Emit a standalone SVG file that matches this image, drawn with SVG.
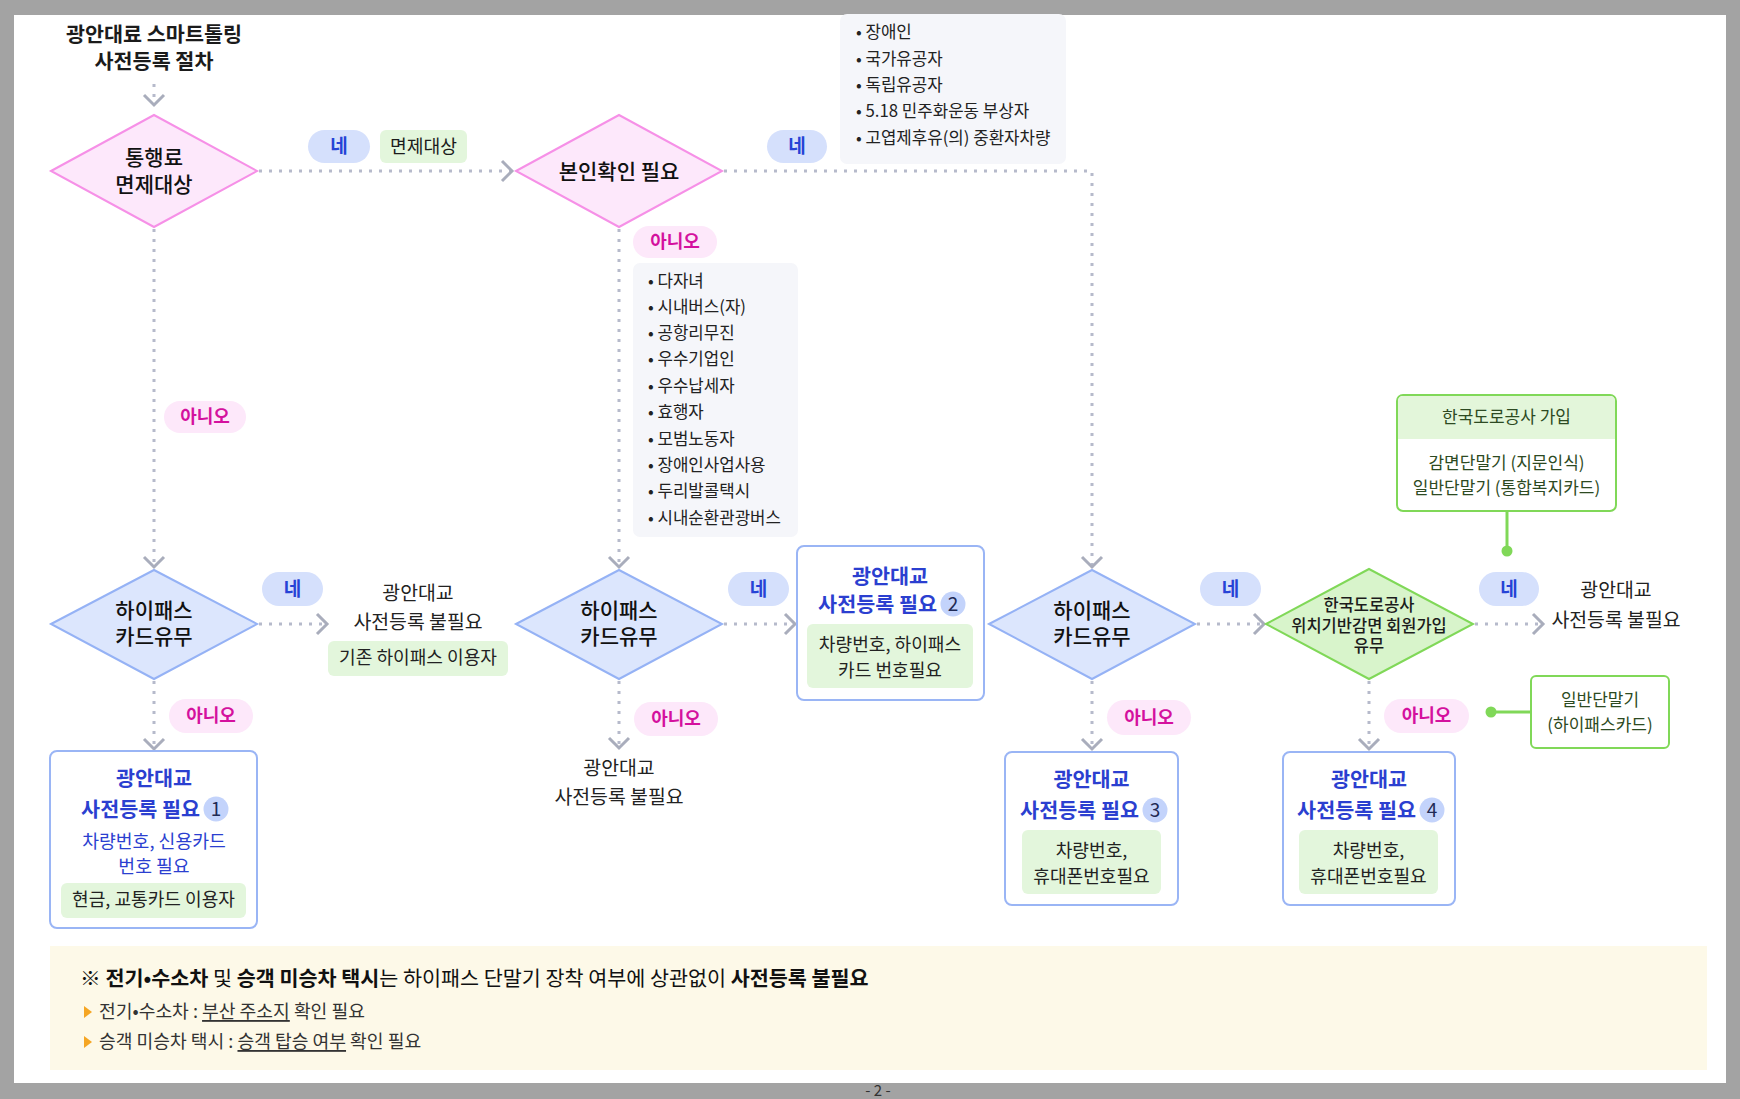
<svg xmlns="http://www.w3.org/2000/svg" width="1740" height="1099" viewBox="0 0 1740 1099">
<style>
text{font-family:"Noto Sans CJK KR","Noto Sans",sans-serif;dominant-baseline:central;fill:#1b1b1b}
.c{text-anchor:middle}
.dot{fill:none;stroke:#b6bacb;stroke-width:3;stroke-dasharray:3 7}
.pk{fill:#fde8fb;stroke:#f690e7;stroke-width:2}
.bl{fill:#dce6fd;stroke:#95b2f5;stroke-width:2}
.gr{fill:#d8f4cb;stroke:#80d858;stroke-width:2}
.ne{fill:#d5e0fc}
.ne-t{fill:#2643d6;font-weight:700;font-size:19px}
.an{fill:#fde8fa}
.an-t{fill:#d4119e;font-weight:700;font-size:18px}
.tag{fill:#e3f6dc}
.box{fill:#fff;stroke:#9ab5f5;stroke-width:2}
.gbox{fill:#fff;stroke:#80d858;stroke-width:2}
.lst{fill:#f5f6fa}
.li{font-size:16.8px;fill:#222}
.dm{font-size:21px;font-weight:500;fill:#111}
.bt{font-size:20.7px;font-weight:700;fill:#2b3fd0}
.bs{font-size:18.3px;fill:#2b3fd0}
.num{fill:#c3d3fb}
.num-t{font-size:19px;fill:#1f2a55}
.tt{font-size:18.1px;fill:#222}
.gt{font-size:17px;fill:#2d4a22}
.np{font-size:19.4px;fill:#222}
.sol{fill:none;stroke:#80d858;stroke-width:3}
</style>
<defs>
<marker id="ar" markerUnits="userSpaceOnUse" markerWidth="16" markerHeight="26" refX="13" refY="13" orient="auto">
<path d="M3,3 L13,13 L3,23" fill="none" stroke="#a9adbc" stroke-width="3"/>
</marker>
</defs>
<rect x="0" y="0" width="1740" height="1099" fill="#a3a3a3"/>
<rect x="14" y="15" width="1712" height="1068" fill="#ffffff"/>

<g id="connectors">
<path class="dot" d="M154,84 V105" marker-end="url(#ar)"/>
<path class="dot" d="M259,171 H512" marker-end="url(#ar)"/>
<path class="dot" d="M154,229 V567" marker-end="url(#ar)"/>
<path class="dot" d="M619,229 V567" marker-end="url(#ar)"/>
<path class="dot" d="M724,171 H1092 V567" marker-end="url(#ar)"/>
<path class="dot" d="M259,624 H327" marker-end="url(#ar)"/>
<path class="dot" d="M154,681 V749" marker-end="url(#ar)"/>
<path class="dot" d="M724,624 H795" marker-end="url(#ar)"/>
<path class="dot" d="M619,681 V748" marker-end="url(#ar)"/>
<path class="dot" d="M1197,624 H1264" marker-end="url(#ar)"/>
<path class="dot" d="M1092,681 V749" marker-end="url(#ar)"/>
<path class="dot" d="M1475,624 H1543" marker-end="url(#ar)"/>
<path class="dot" d="M1369,681 V749" marker-end="url(#ar)"/>
<path class="sol" d="M1507,511 V551"/>
<circle cx="1507" cy="551" r="5.5" fill="#80d858"/>
<path class="sol" d="M1491,712 H1531"/>
<circle cx="1491" cy="712" r="5.5" fill="#80d858"/>
</g>

<g id="title">
<text class="c" font-size="20.7" font-weight="700"><tspan x="154" y="33">광안대료 스마트톨링</tspan><tspan x="154" y="60">사전등록 절차</tspan></text>
</g>

<g id="d1">
<polygon class="pk" points="51,171 154,115 257,171 154,227"/>
<text class="c dm"><tspan x="154" y="156">통행료</tspan><tspan x="154" y="183">면제대상</tspan></text>
</g>
<g id="l-ne1"><rect class="ne" x="308" y="130" width="62" height="33" rx="16.5"/><text class="c ne-t" x="339" y="144.5">네</text></g>
<g id="tag-exempt"><rect class="tag" x="380" y="130" width="87" height="33" rx="6"/><text class="c" x="423.5" y="144.5" font-size="18.2">면제대상</text></g>

<g id="d2">
<polygon class="pk" points="516,171 619,115 722,171 619,227"/>
<text class="c dm" x="619" y="170">본인확인 필요</text>
</g>
<g id="l-ne2"><rect class="ne" x="767" y="130" width="60" height="33" rx="16.5"/><text class="c ne-t" x="797" y="144.5">네</text></g>
<g id="list1">
<rect class="lst" x="840" y="14" width="226" height="150" rx="7"/>
<text class="li"><tspan x="856" y="31">• 장애인</tspan><tspan x="856" y="58">• 국가유공자</tspan><tspan x="856" y="84">• 독립유공자</tspan><tspan x="856" y="110">• 5.18 민주화운동 부상자</tspan><tspan x="856" y="137">• 고엽제후유(의) 중환자차량</tspan></text>
</g>

<g id="l-an1"><rect class="an" x="164" y="401" width="82" height="32" rx="16"/><text class="c an-t" x="205" y="415">아니오</text></g>
<g id="l-an2"><rect class="an" x="633" y="226" width="84" height="32" rx="16"/><text class="c an-t" x="675" y="240">아니오</text></g>
<g id="list2">
<rect class="lst" x="633" y="263" width="165" height="274" rx="7"/>
<text class="li"><tspan x="648" y="280">• 다자녀</tspan><tspan x="648" y="306">• 시내버스(자)</tspan><tspan x="648" y="332">• 공항리무진</tspan><tspan x="648" y="358">• 우수기업인</tspan><tspan x="648" y="385">• 우수납세자</tspan><tspan x="648" y="411">• 효행자</tspan><tspan x="648" y="438">• 모범노동자</tspan><tspan x="648" y="464">• 장애인사업사용</tspan><tspan x="648" y="490">• 두리발콜택시</tspan><tspan x="648" y="517">• 시내순환관광버스</tspan></text>
</g>

<g id="d3">
<polygon class="bl" points="51,624 154,570 257,624 154,679"/>
<text class="c dm"><tspan x="154" y="609">하이패스</tspan><tspan x="154" y="635">카드유무</tspan></text>
</g>
<g id="l-ne3"><rect class="ne" x="262" y="572" width="61" height="34" rx="17"/><text class="c ne-t" x="292.5" y="587">네</text></g>
<g id="r-nopre1">
<text class="c np"><tspan x="418" y="591">광안대교</tspan><tspan x="418" y="620">사전등록 불필요</tspan></text>
<rect class="tag" x="328" y="641" width="180" height="35" rx="6"/>
<text class="c tt" x="418" y="656">기존 하이패스 이용자</text>
</g>
<g id="l-an3"><rect class="an" x="169" y="699" width="84" height="34" rx="17"/><text class="c an-t" x="211" y="714">아니오</text></g>
<g id="box1">
<rect class="box" x="50" y="751" width="207" height="177" rx="7"/>
<text class="c bt" x="154" y="777">광안대교</text>
<text class="bt" x="200" y="808" text-anchor="end">사전등록 필요</text>
<circle class="num" cx="216" cy="809" r="12.5"/><text class="c num-t" x="216" y="807.5">1</text>
<text class="c bs"><tspan x="154" y="840">차량번호, 신용카드</tspan><tspan x="154" y="865">번호 필요</tspan></text>
<rect class="tag" x="61" y="883" width="185" height="35" rx="6"/>
<text class="c tt" x="153.5" y="898">현금, 교통카드 이용자</text>
</g>

<g id="d4">
<polygon class="bl" points="516,624 619,570 722,624 619,679"/>
<text class="c dm"><tspan x="619" y="609">하이패스</tspan><tspan x="619" y="635">카드유무</tspan></text>
</g>
<g id="l-ne4"><rect class="ne" x="728" y="572" width="61" height="34" rx="17"/><text class="c ne-t" x="758.5" y="587">네</text></g>
<g id="box2">
<rect class="box" x="797" y="546" width="187" height="154" rx="7"/>
<text class="c bt" x="890" y="575">광안대교</text>
<text class="bt" x="937" y="603" text-anchor="end">사전등록 필요</text>
<circle class="num" cx="953" cy="604" r="12.5"/><text class="c num-t" x="953" y="602.5">2</text>
<rect class="tag" x="807" y="624" width="166" height="64" rx="6"/>
<text class="c tt"><tspan x="890" y="643">차량번호, 하이패스</tspan><tspan x="890" y="669">카드 번호필요</tspan></text>
</g>
<g id="l-an4"><rect class="an" x="634" y="702" width="84" height="34" rx="17"/><text class="c an-t" x="676" y="717">아니오</text></g>
<g id="r-nopre2">
<text class="c np"><tspan x="619" y="766">광안대교</tspan><tspan x="619" y="795">사전등록 불필요</tspan></text>
</g>

<g id="d5">
<polygon class="bl" points="989,624 1092,570 1195,624 1092,679"/>
<text class="c dm"><tspan x="1092" y="609">하이패스</tspan><tspan x="1092" y="635">카드유무</tspan></text>
</g>
<g id="l-ne5"><rect class="ne" x="1200" y="572" width="61" height="34" rx="17"/><text class="c ne-t" x="1230.5" y="587">네</text></g>
<g id="l-an5"><rect class="an" x="1107" y="700" width="84" height="35" rx="17.5"/><text class="c an-t" x="1149" y="715.5">아니오</text></g>
<g id="box3">
<rect class="box" x="1005" y="752" width="173" height="153" rx="7"/>
<text class="c bt" x="1091.5" y="778">광안대교</text>
<text class="bt" x="1139" y="809" text-anchor="end">사전등록 필요</text>
<circle class="num" cx="1155" cy="810" r="12.5"/><text class="c num-t" x="1155" y="808.5">3</text>
<rect class="tag" x="1022" y="830" width="139" height="64" rx="6"/>
<text class="c tt"><tspan x="1091.5" y="849">차량번호,</tspan><tspan x="1091.5" y="875">휴대폰번호필요</tspan></text>
</g>

<g id="d6">
<polygon class="gr" points="1266,624 1369,569 1473,624 1369,679"/>
<text class="c" font-size="16.5" font-weight="500"><tspan x="1369" y="604">한국도로공사</tspan><tspan x="1369" y="624.5">위치기반감면 회원가입</tspan><tspan x="1369" y="645">유무</tspan></text>
</g>
<g id="l-ne6"><rect class="ne" x="1479" y="572" width="60" height="34" rx="17"/><text class="c ne-t" x="1509" y="587">네</text></g>
<g id="r-nopre3">
<text class="c np"><tspan x="1616" y="588">광안대교</tspan><tspan x="1616" y="618">사전등록 불필요</tspan></text>
</g>
<g id="ex-join">
<rect class="gbox" x="1397" y="395" width="219" height="116" rx="6"/>
<path d="M1398,439 V401 Q1398,396 1403,396 H1610 Q1615,396 1615,401 V439 Z" fill="#e3f6da"/>
<text class="c gt" x="1506.5" y="415" font-size="18.3">한국도로공사 가입</text>
<text class="c gt"><tspan x="1506.5" y="461">감면단말기 (지문인식)</tspan><tspan x="1506.5" y="486">일반단말기 (통합복지카드)</tspan></text>
</g>
<g id="l-an6"><rect class="an" x="1384" y="699" width="85" height="34" rx="17"/><text class="c an-t" x="1426.5" y="714">아니오</text></g>
<g id="ex-hipass">
<rect class="gbox" x="1531" y="676" width="138" height="72" rx="5"/>
<text class="c gt"><tspan x="1600" y="698">일반단말기</tspan><tspan x="1600" y="723">(하이패스카드)</tspan></text>
</g>
<g id="box4">
<rect class="box" x="1283" y="752" width="172" height="153" rx="7"/>
<text class="c bt" x="1369" y="778">광안대교</text>
<text class="bt" x="1416" y="809" text-anchor="end">사전등록 필요</text>
<circle class="num" cx="1432" cy="810" r="12.5"/><text class="c num-t" x="1432" y="808.5">4</text>
<rect class="tag" x="1299" y="830" width="139" height="64" rx="6"/>
<text class="c tt"><tspan x="1368.5" y="849">차량번호,</tspan><tspan x="1368.5" y="875">휴대폰번호필요</tspan></text>
</g>

<g id="footer">
<rect x="50" y="946" width="1657" height="124" fill="#fdf9e8"/>
<text x="80" y="977" font-size="20.7" style="fill:#111"><tspan font-weight="700">※ 전기•수소차</tspan> 및 <tspan font-weight="700">승객 미승차 택시</tspan>는 하이패스 단말기 장착 여부에 상관없이 <tspan font-weight="700">사전등록 불필요</tspan></text>
<path d="M84,1006 L92,1012 L84,1018 Z" fill="#f5a623"/>
<text x="99" y="1010" font-size="18.2" style="fill:#333">전기•수소차 : <tspan style="text-decoration:underline">부산 주소지</tspan> 확인 필요</text>
<path d="M84,1036 L92,1042 L84,1048 Z" fill="#f5a623"/>
<text x="99" y="1040" font-size="18.2" style="fill:#333">승객 미승차 택시 : <tspan style="text-decoration:underline">승객 탑승 여부</tspan> 확인 필요</text>
</g>
<text class="c" x="878" y="1089" font-size="15" style="fill:#333">- 2 -</text>
</svg>
